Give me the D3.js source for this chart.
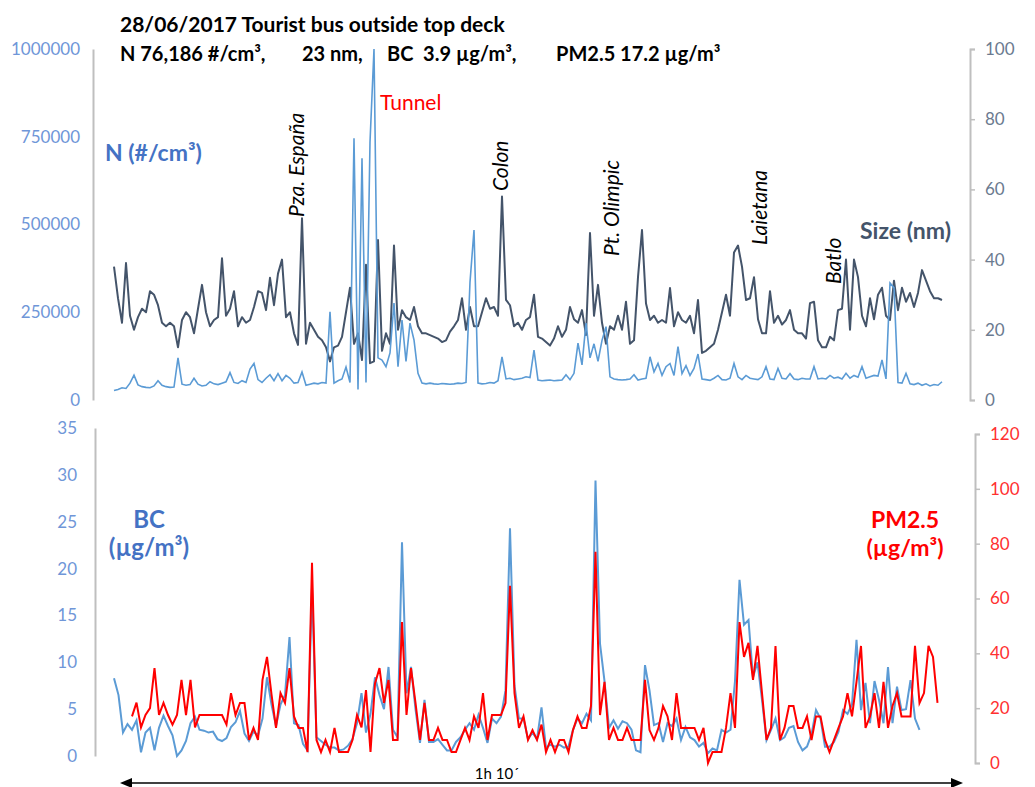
<!DOCTYPE html>
<html>
<head>
<meta charset="utf-8">
<script src="https://cdnjs.cloudflare.com/ajax/libs/d3/7.8.5/d3.min.js"></script>
<style>
  body { margin: 0; background: #fff; }
  svg text { font-family: Lato, "Open Sans", sans-serif; }
</style>
</head>
<body>
<div id="chart"></div>
<script>
(function(d3) {
  'use strict';

  // particle number, thousands of #/cm3, one value per sample
  var nThousands = [
    27, 30, 35, 33, 48, 71, 43, 38, 36, 35,
    40, 55, 42, 38, 36, 37, 120, 45, 42, 44,
    62, 45, 40, 42, 52, 46, 44, 48, 52, 78,
    50, 47, 55, 50, 88, 104, 58, 50, 62, 72,
    55, 75, 55, 70, 62, 48, 50, 80, 42, 45,
    48, 46, 50, 48, 251, 48, 55, 60, 94, 50,
    746, 30, 689, 50, 735, 1000, 120, 114, 95, 134,
    276, 95, 228, 110, 219, 171, 76, 48, 46, 48,
    46, 45, 47, 46, 45, 46, 48, 47, 50, 336,
    484, 48, 46, 47, 50, 48, 55, 123, 60, 62,
    58, 60, 62, 66, 64, 142, 57, 55, 56, 57,
    55, 56, 57, 72, 58, 76, 162, 100, 219, 120,
    160, 110, 170, 209, 66, 60, 58, 57, 58, 60,
    72, 57, 60, 62, 123, 80, 104, 70, 95, 104,
    70, 152, 75, 98, 70, 90, 131, 60, 58, 56,
    62, 70, 58, 57, 62, 104, 66, 58, 70, 62,
    60, 58, 66, 95, 60, 58, 90, 62, 60, 75,
    60, 58, 62, 60, 60, 95, 60, 62, 60, 70,
    62, 65, 60, 76, 62, 70, 65, 95, 62, 66,
    70, 68, 114, 60, 333, 320, 50, 48, 76, 46,
    44, 48, 42, 46, 40, 44, 42, 52
  ];

  // mean particle size, nm
  var sizeNm = [
    38, 29, 22, 39, 24, 20, 23.6, 26, 25, 31,
    30, 27, 22, 21, 22, 21, 15, 22.8, 25, 23.6,
    19, 26, 32.8, 25, 21, 22.8, 23.6, 40.4, 24, 26,
    31, 21, 23.6, 22, 22.8, 26.5, 31, 30.5, 25.6, 34.8,
    27, 36, 40, 23.6, 25, 19, 15.7, 51.8, 16, 22,
    20, 18, 17, 15, 11, 15, 15.5, 18, 25, 32,
    16, 19, 11.4, 38.5, 10.5, 11, 45.6, 14, 19, 16,
    44, 20, 25.6, 23.6, 22.8, 26.5, 21, 19, 19, 18.5,
    18, 17.5, 16.5, 17, 19.5, 21, 22.8, 29, 20, 26.5,
    21, 21, 25, 29, 26, 26.5, 24, 58, 28.5, 27,
    21, 22, 20, 22.8, 23.6, 30, 18, 17.5, 16.5, 15.5,
    17.5, 21, 18, 20, 26.5, 23, 22, 25.6, 18.5, 47.6,
    24, 32.8, 22, 16, 21, 20, 24, 20, 28, 16,
    17, 35, 48.4, 27.5, 22.8, 24, 22, 22.8, 22, 31.9,
    21, 25, 22.8, 22, 24, 19, 28.5, 13.4, 14, 15,
    16, 20, 25, 30, 24, 42, 44, 38, 28.5, 29,
    35, 23, 19, 19, 31, 22, 24, 21.5, 22.8, 25.6,
    20, 19, 19, 17.5, 27.6, 28, 17, 15, 15, 18,
    17, 25.6, 26, 40, 20, 40, 35, 24, 21, 29,
    23, 30, 32, 24, 22.8, 34, 25.6, 32, 28, 30.5,
    26.5, 30.5, 37, 34, 31, 29, 29, 28.5
  ];

  // black carbon, ug/m3
  var bcValues = [
    8.3, 6.5, 2.5, 3.4, 2.8, 3.8, 0.4, 2.5, 3, 0.6,
    3, 4.3, 3.2, 2.2, 0, 0.6, 1.6, 3.5, 4.2, 2.8,
    2.7, 2.5, 2.6, 1.8, 1.6, 1.9, 3.1, 3.6, 4.8, 2.4,
    1.6, 2.6, 2.2, 4, 8.4, 5.5, 3.2, 5.5, 6.5, 12.7,
    3.5, 3.3, 1.3, 0.6, 18, 2, 1.6, 1.2, 0.9, 0.9,
    0.6, 0.7, 1.1, 1.8, 3.5, 6.7, 2.5, 4.5, 8.4, 6.5,
    5, 9.5, 2.8, 2, 22.8, 6.7, 9.5, 5, 1.4, 6,
    1.5, 1.5, 1.8, 1.2, 0.6, 0.6, 1.5, 2, 2.8, 3.5,
    2.8, 4.4, 3, 1.4, 4, 3.5, 4.2, 7, 24.3, 7.5,
    4, 4, 1.8, 2.5, 1.8, 5.2, 0.9, 1.2, 1, 1.2,
    0.9, 1, 2.8, 4, 3.5, 4.5, 3.8, 29.4, 12, 8,
    3, 3.8, 2.9, 3.7, 3.5, 2.8, 0.6, 0.4, 9.7, 7,
    3.3, 3.5, 1.5, 3.5, 3.2, 4, 1.7, 3.1, 2, 1.7,
    1, 1.4, 0.3, 0.8, 0.6, 2.8, 2.5, 2.8, 8, 18.8,
    14, 14.5, 8.4, 10, 6, 1.7, 2.8, 4, 1.7, 2,
    3, 3.2, 1.5, 0.6, 1, 2.3, 4.9, 4, 1, 1,
    1.5, 2.6, 4.9, 4.5, 5.5, 12.4, 4.9, 7.8, 3.5, 8,
    6, 3.5, 9.5, 3.5, 7.4, 4.9, 5, 8.1, 4, 2.8
  ];

  // PM2.5, ug/m3 (logger started 4 samples after the BC one)
  var pmOffset = 4;
  var pmValues = [
    17, 22, 13, 17.5, 20, 34.6, 17.5, 21.9, 17.5, 14,
    17.5, 30.3, 17.5, 30.3, 13, 17.5, 17.5, 17.5, 17.5, 17.5,
    17.5, 14, 25.5, 17.5, 21.9, 21.9, 8.4, 12.8, 8.4, 30.3,
    38.7, 25, 12.8, 25.5, 21.9, 34.6, 17, 12.8, 12.8, 4,
    73, 8.4, 4, 8.4, 4, 12.8, 4, 4, 4, 8.4,
    17.5, 13, 26.6, 4, 29, 34.6, 21.9, 30.3, 8.4, 8.4,
    51.4, 17.5, 34.6, 21.9, 8.4, 21.9, 8.4, 8.4, 12.8, 8.4,
    8.4, 4, 4, 8.4, 12.8, 8.4, 17, 12.8, 25.5, 8.4,
    17.5, 17.5, 17.5, 21.9, 64.6, 25.5, 12.8, 17, 8.4, 12,
    8.4, 14, 4, 8.4, 4, 8.4, 8.4, 4, 12, 17,
    12.8, 12.8, 20.8, 77, 17.5, 29.6, 8.4, 12.8, 8.4, 8.4,
    12.8, 8.4, 8.4, 8.4, 30.3, 12, 8.4, 12.8, 20.8, 17,
    8.4, 25.5, 12.8, 12.8, 12.8, 12.8, 8.4, 12.8, 0, 4,
    4, 4, 12.8, 25.5, 12.8, 51.4, 38.7, 43.8, 30.3, 42.7,
    25.5, 8.4, 12.8, 42.7, 8.4, 12.8, 20.8, 20.8, 12.8, 12.8,
    17, 8.4, 17, 17, 8.4, 4, 8.4, 12.8, 17, 25.5,
    17, 29.6, 42.7, 12.8, 17, 25.5, 12.8, 29.6, 12.8, 20.8,
    25.5, 17, 17, 17, 42.7, 21.9, 25.5, 42.7, 38.7, 21.9
  ];

  var nTicks = [0, 250000, 500000, 750000, 1000000];
  var sizeTicks = [0, 20, 40, 60, 80, 100];
  var bcTicks = [0, 5, 10, 15, 20, 25, 30, 35];
  var pmTicks = [0, 20, 40, 60, 80, 100, 120];

  var blue = "#5b9bd5",
      slate = "#44546a",
      red = "#ff0000",
      labelBlue = "#4472c4";

  var width = 1035;
  var height = 787;

  var svg = d3.select("#chart")
              .append("svg")
              .attr("width", width)
              .attr("height", height);

  // ---- top panel: N and size
  var xTop = d3.scaleLinear().domain([0, nThousands.length - 1]).range([114, 942]);
  var yN = d3.scaleLinear().domain([0, 1000000]).range([400, 49]);
  var ySize = d3.scaleLinear().domain([0, 100]).range([400, 49]);

  var styleAxis = function(g, color) {
    g.select(".domain").attr("stroke", "#bfbfbf").attr("stroke-width", 2);
    g.selectAll(".tick line").attr("stroke", "#bfbfbf").attr("stroke-width", 1.5);
    g.selectAll("text")
      .attr("fill", color)
      .style("font-size", "17px");
  };

  svg.append("g")
      .attr("transform", "translate(93,0)")
      .call(d3.axisLeft(yN).tickValues(nTicks).tickSize(0).tickPadding(13).tickFormat(d3.format("d")))
      .call(styleAxis, "#6f96d8");

  svg.append("g")
      .attr("transform", "translate(970,0)")
      .call(d3.axisRight(ySize).tickValues(sizeTicks).tickSize(5).tickPadding(10))
      .call(styleAxis, "#6b7a8f");

  var line_size = d3.line()
      .x(function(d, i) { return xTop(i); })
      .y(function(d) { return ySize(d); });

  var line_n = d3.line()
      .x(function(d, i) { return xTop(i); })
      .y(function(d) { return yN(d * 1000); });

  svg.append("path")
      .attr("fill", "none")
      .attr("stroke", slate)
      .attr("stroke-width", 2)
      .attr("stroke-linejoin", "round")
      .attr("d", line_size(sizeNm));

  svg.append("path")
      .attr("fill", "none")
      .attr("stroke", blue)
      .attr("stroke-width", 1.6)
      .attr("d", line_n(nThousands));

  // ---- bottom panel: BC and PM2.5
  var xBottom = d3.scaleLinear().domain([0, 184]).range([114, 942]);
  var yBC = d3.scaleLinear().domain([0, 35]).range([756, 428]);
  var yPM = d3.scaleLinear().domain([0, 120]).range([763, 434]);

  svg.append("g")
      .attr("transform", "translate(95,0)")
      .call(d3.axisLeft(yBC).tickValues(bcTicks).tickSize(0).tickPadding(18))
      .call(styleAxis, "#6f96d8");

  svg.append("g")
      .attr("transform", "translate(975,0)")
      .call(d3.axisRight(yPM).tickValues(pmTicks).tickSize(5).tickPadding(10))
      .call(styleAxis, "#ff3030");

  var line_bc = d3.line()
      .x(function(d, i) { return xBottom(i); })
      .y(function(d) { return yBC(d); });

  var line_pm = d3.line()
      .x(function(d, i) { return xBottom(i + pmOffset); })
      .y(function(d) { return yPM(d); });

  svg.append("path")
      .attr("fill", "none")
      .attr("stroke", blue)
      .attr("stroke-width", 2)
      .attr("d", line_bc(bcValues));

  svg.append("path")
      .attr("fill", "none")
      .attr("stroke", red)
      .attr("stroke-width", 2)
      .attr("d", line_pm(pmValues));

  // ---- titles
  svg.append("text")
      .attr("x", 120).attr("y", 32)
      .style("font-size", "21px").style("font-weight", "bold")
      .text("28/06/2017 Tourist bus outside top deck");

  var summary = [
    { x: 120, t: "N 76,186 #/cm³," },
    { x: 302, t: "23 nm," },
    { x: 387, t: "BC  3.9 µg/m³," },
    { x: 556, t: "PM2.5 17.2 µg/m³" }
  ];
  svg.selectAll(".summary")
    .data(summary)
    .enter().append("text")
      .attr("class", "summary")
      .attr("x", function(d) { return d.x; })
      .attr("y", 61)
      .attr("xml:space", "preserve")
      .style("font-size", "20px").style("font-weight", "bold")
      .text(function(d) { return d.t; });

  // series labels
  svg.append("text")
      .attr("x", 105).attr("y", 161)
      .attr("fill", labelBlue)
      .style("font-size", "23px").style("font-weight", "bold")
      .text("N (#/cm³)");

  svg.append("text")
      .attr("x", 860).attr("y", 239)
      .attr("fill", slate)
      .style("font-size", "23px").style("font-weight", "bold")
      .text("Size (nm)");

  svg.append("text")
      .attr("x", 380).attr("y", 110)
      .attr("fill", red)
      .style("font-size", "21px")
      .text("Tunnel");

  var bcLabel = svg.append("text")
      .attr("text-anchor", "middle")
      .attr("fill", labelBlue)
      .style("font-size", "24px").style("font-weight", "bold");
  bcLabel.append("tspan").attr("x", 149).attr("y", 528).text("BC");
  bcLabel.append("tspan").attr("x", 149).attr("y", 556).text("(µg/m³)");

  var pmLabel = svg.append("text")
      .attr("text-anchor", "middle")
      .attr("fill", red)
      .style("font-size", "23px").style("font-weight", "bold");
  pmLabel.append("tspan").attr("x", 905).attr("y", 528).text("PM2.5");
  pmLabel.append("tspan").attr("x", 905).attr("y", 556).text("(µg/m³)");

  // street names, written upwards
  var places = [
    { name: "Pza. España", x: 304, y: 217 },
    { name: "Colon", x: 508, y: 191 },
    { name: "Pt. Olimpic", x: 619, y: 256 },
    { name: "Laietana", x: 767, y: 245 },
    { name: "Batlo", x: 841, y: 284 }
  ];
  svg.selectAll(".place")
    .data(places)
    .enter().append("text")
      .attr("class", "place")
      .attr("transform", function(d) { return "translate(" + d.x + "," + d.y + ") rotate(-90)"; })
      .style("font-size", "21px").style("font-style", "italic")
      .text(function(d) { return d.name; });

  // duration arrow
  svg.append("line")
      .attr("x1", 130).attr("x2", 952)
      .attr("y1", 783).attr("y2", 783)
      .attr("stroke", "#000").attr("stroke-width", 1.5);
  svg.append("path")
      .attr("d", "M120,783 L132,778 L132,788 Z")
      .attr("fill", "#000");
  svg.append("path")
      .attr("d", "M963,783 L951,778 L951,788 Z")
      .attr("fill", "#000");
  svg.append("text")
      .attr("x", 497).attr("y", 779)
      .attr("text-anchor", "middle")
      .style("font-size", "15px")
      .text("1h 10´");
})(window.d3);
</script>
</body>
</html>
